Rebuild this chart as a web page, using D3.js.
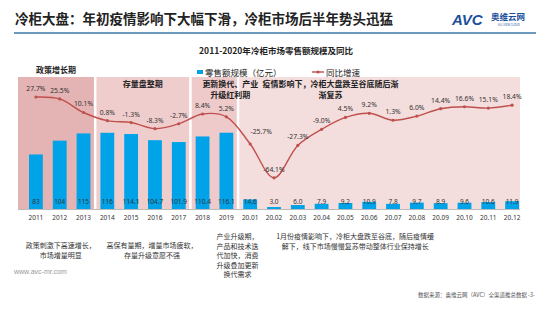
<!DOCTYPE html>
<html>
<head>
<meta charset="utf-8">
<script src="https://cdn.jsdelivr.net/npm/d3@7"></script>
<style>
  body { margin: 0; background: #fff; }
  svg { display: block; font-family: "Noto Sans CJK SC", "Noto Sans", sans-serif; }
</style>
</head>
<body>
<div id="chart"></div>
<script>
const categories = ["2011","2012","2013","2014","2015","2016","2017","2018","2019",
  "20.01","20.02","20.03","20.04","20.05","20.06","20.07","20.08","20.09","20.10","20.11","20.12"];
const sales = [83,104,115,116,114.1,104.7,101.9,110.4,116.1,14.6,3.0,6.0,7.9,9.2,10.9,7.8,9.7,8.9,9.6,10.6,11.9];
const salesLabels = ["83","104","115","116","114.1","104.7","101.9","110.4","116.1","14.6","3.0","6.0","7.9","9.2","10.9","7.8","9.7","8.9","9.6","10.6","11.9"];
const growth = [27.7,25.5,10.1,0.8,-1.3,-8.3,-2.7,8.4,5.2,-25.7,-64.1,-27.3,-9.0,4.5,9.2,1.3,6.0,14.4,16.6,15.1,18.4];

const periods = [
  { name: ["政策增长期"], from: "2011", to: "2013", fill: "#e4b3b3", labelAbove: true },
  { name: ["存量盘整期"], from: "2014", to: "2017", fill: "#efcdcd" },
  { name: ["更新换代、产业", "升级红利期"], from: "2018", to: "2019", fill: "#eecaca", labelAt: "2019", dx: 4 },
  { name: ["疫情影响下，冷柜大盘跌至谷底随后渐", "渐复苏"], from: "20.01", to: "20.12", fill: "#f3dddd", labelAt: "20.04", dx: 9 }
];

const notes = [
  { lines: ["政策刺激下高速增长，", "市场增量明显"], at: ["2011", "2013"], shift: 1, top: 248 },
  { lines: ["高保有量期，增量市场疲软，", "存量升级意愿不强"], at: ["2014", "2017"], shift: 9, top: 248 },
  { lines: ["产业升级期，", "产品和技术迭", "代加快，消费", "升级叠加更新", "换代需求"], at: ["2018", "2019"], shift: 23, top: 239 },
  { lines: ["1月份疫情影响下，冷柜大盘跌至谷底，随后疫情缓", "解下，线下市场慢慢复苏带动整体行业保持增长"], at: ["20.01", "20.12"], shift: -26, top: 239 }
];

const W = 550, H = 309;
const svg = d3.select("#chart").append("svg")
  .attr("width", W).attr("height", H);

// header
svg.append("text")
  .attr("x", 15).attr("y", 24)
  .attr("font-size", 13.5).attr("font-weight", "bold").attr("fill", "#222")
  .text("冷柜大盘：年初疫情影响下大幅下滑，冷柜市场后半年势头迅猛");

svg.append("line")
  .attr("x1", 14).attr("x2", 536).attr("y1", 33).attr("y2", 33)
  .attr("stroke", "#3b77a8").attr("stroke-width", 1.6);

svg.append("text")
  .attr("x", 452).attr("y", 25)
  .attr("font-family", "Liberation Sans, sans-serif")
  .attr("font-size", 15).attr("font-weight", "bold").attr("font-style", "italic")
  .attr("fill", "#1b4f9c").text("AVC");
svg.append("text")
  .attr("x", 491).attr("y", 20)
  .attr("font-size", 8.5).attr("font-weight", "bold")
  .attr("fill", "#1b4f9c").text("奥维云网");
svg.append("text")
  .attr("x", 498).attr("y", 25.5)
  .attr("font-size", 2.8).attr("fill", "#1b4f9c").text("ALL VIEW CLOUD");

svg.append("text")
  .attr("x", 276).attr("y", 54)
  .attr("text-anchor", "middle")
  .attr("font-size", 8.5).attr("font-weight", "bold").attr("fill", "#222")
  .text("2011-2020年冷柜市场零售额规模及同比");

/* ---- scales ---- */
const x = d3.scaleBand()
  .domain(categories)
  .range([24, 524])
  .paddingInner(0.42)
  .paddingOuter(0.21);

const y = d3.scaleLinear().domain([0, 200]).range([209, 77.6]);
const yg = d3.scaleLinear().domain([-64.1, 27.7]).range([177.8, 97]);

const cx = c => x(c) + x.bandwidth() / 2;
const half = x.step() / 2;

/* ---- period backgrounds ---- */
const bg = svg.append("g");
const bgLabels = svg.append("g");
periods.forEach((p, i) => {
  const x0 = i === 0 ? cx(p.from) - half - 6 : cx(p.from) - half + 1;
  const x1 = i === periods.length - 1 ? cx(p.to) + half - 4 : cx(p.to) + half - 1.5;
  bg.append("rect")
    .attr("x", x0).attr("y", 77)
    .attr("width", x1 - x0).attr("height", y(0) - 77)
    .attr("fill", p.fill);

  const mid = p.labelAt ? cx(p.labelAt) + p.dx : (x0 + x1) / 2;
  const top = p.labelAbove ? 73 : 87;
  p.name.forEach((t, j) => {
    bgLabels.append("text")
      .attr("x", mid).attr("y", top + j * 11)
      .attr("text-anchor", "middle")
      .attr("font-family", "Noto Sans CJK SC, serif")
      .attr("font-size", 8).attr("font-weight", "bold").attr("fill", "#222")
      .text(t);
  });
});

/* ---- axis ---- */
svg.append("g")
  .attr("transform", `translate(0, ${y(0)})`)
  .call(d3.axisBottom(x).tickSize(0).tickPadding(6))
  .call(g => g.select(".domain").attr("stroke", "#bbb").attr("d", "M18,0.5H520"))
  .call(g => g.selectAll("text")
    .attr("font-size", 6.5).attr("fill", "#333")
    .attr("font-family", "Noto Sans, sans-serif"));

/* ---- bars ---- */
svg.append("g").selectAll("rect")
  .data(categories)
  .join("rect")
  .attr("x", d => x(d))
  .attr("y", (d, i) => y(sales[i]))
  .attr("width", x.bandwidth())
  .attr("height", (d, i) => y(0) - y(sales[i]))
  .attr("fill", "#00a2e8");

svg.append("g").selectAll("text")
  .data(categories)
  .join("text")
  .attr("x", d => cx(d))
  .attr("y", 204)
  .attr("text-anchor", "middle")
  .attr("font-size", 6.5).attr("fill", "#333")
  .attr("font-family", "Noto Sans, sans-serif")
  .text((d, i) => salesLabels[i]);

/* ---- growth line ---- */
const pts = categories.map((c, i) => [cx(c), yg(growth[i])]);
svg.append("path")
  .attr("d", d3.line().curve(d3.curveCatmullRom.alpha(0.5))(pts))
  .attr("fill", "none")
  .attr("stroke", "#c0504d")
  .attr("stroke-width", 1.4);

svg.append("g").selectAll("circle")
  .data(pts)
  .join("circle")
  .attr("cx", d => d[0]).attr("cy", d => d[1])
  .attr("r", 1.6).attr("fill", "#c0504d");

const labelShift = { "20.01": [11, -4] };
svg.append("g").selectAll("text")
  .data(categories)
  .join("text")
  .attr("x", (d, i) => pts[i][0] + (labelShift[d] ? labelShift[d][0] : 0))
  .attr("y", (d, i) => pts[i][1] - 6 + (labelShift[d] ? labelShift[d][1] : 0))
  .attr("text-anchor", "middle")
  .attr("font-size", 6.8).attr("fill", "#333")
  .attr("font-family", "Noto Sans, sans-serif")
  .text((d, i) => growth[i].toFixed(1) + "%");

/* ---- legend ---- */
const lg = svg.append("g").attr("font-size", 8.5).attr("fill", "#222");
lg.append("rect").attr("x", 197).attr("y", 70).attr("width", 6).attr("height", 4).attr("fill", "#00a2e8");
lg.append("text").attr("x", 205).attr("y", 75.5).text("零售额规模（亿元）");
lg.append("line").attr("x1", 312).attr("x2", 324).attr("y1", 72).attr("y2", 72)
  .attr("stroke", "#c0504d").attr("stroke-width", 1.4);
lg.append("circle").attr("cx", 318).attr("cy", 72).attr("r", 1.6).attr("fill", "#c0504d");
lg.append("text").attr("x", 326).attr("y", 75.5).text("同比增速");

/* ---- notes under the axis ---- */
notes.forEach(n => {
  const mid = (cx(n.at[0]) + cx(n.at[1])) / 2 + (n.shift || 0);
  n.lines.forEach((t, j) => {
    svg.append("text")
      .attr("x", mid).attr("y", n.top + j * 9.5)
      .attr("text-anchor", "middle")
      .attr("font-size", 7).attr("fill", "#333")
      .text(t);
  });
});

/* ---- footer ---- */
svg.append("text")
  .attr("x", 14).attr("y", 274)
  .attr("font-size", 7).attr("fill", "#999")
  .attr("font-family", "Liberation Sans, sans-serif")
  .text("www.avc-mr.com");
svg.append("text")
  .attr("x", 535).attr("y", 297)
  .attr("text-anchor", "end")
  .attr("font-size", 5.5).attr("fill", "#555")
  .text("数据来源：奥维云网（AVC）全渠道推总数据 -3-");
</script>
</body>
</html>
